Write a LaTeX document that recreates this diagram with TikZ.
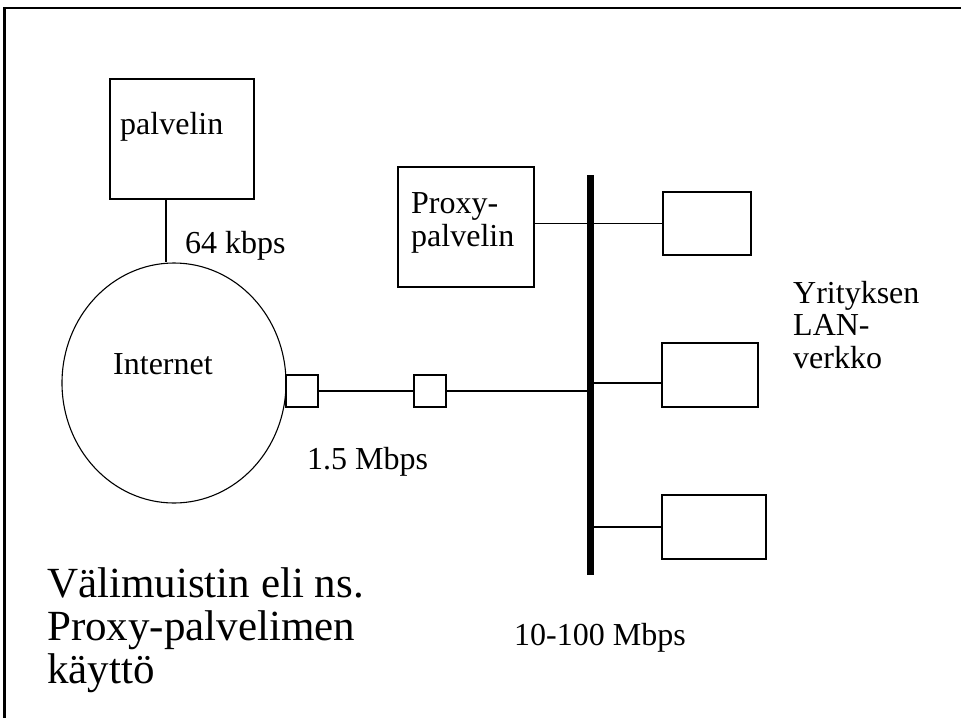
\documentclass[tikz,border=0pt]{standalone}
\usepackage{fontspec}
\setmainfont{Liberation Serif}
\usetikzlibrary{shapes.geometric}
\begin{document}
\begin{tikzpicture}[x=1pt,y=-1pt,
  box/.style={draw,line width=1.1pt,inner sep=0pt,fill=white},
  wire/.style={line width=1.1pt},
  lbl/.style={inner sep=0pt,anchor=base west,font=\fontsize{32}{32.5}\selectfont},
  big/.style={inner sep=0pt,anchor=base west,font=\fontsize{43}{43}\selectfont}]
\useasboundingbox (0,0) rectangle (961,718);
% frame
\coordinate (ftr) at (961,8);
\coordinate (ftl) at (4.5,8);
\coordinate (fbl) at (4.5,718);
\draw[line width=2.7pt] (ftr) -- (ftl) -- (fbl);
% nodes
\node[box,minimum width=144,minimum height=120] (pal) at (182,139) {};
\node[box,ellipse,minimum width=224,minimum height=240] (inet) at (174,383) {};
\node[box,minimum width=32,minimum height=32] (r1) at (302,391) {};
\node[box,minimum width=32,minimum height=32] (r2) at (430,391) {};
\node[fill=black,inner sep=0pt,minimum width=7,minimum height=400] (bus) at (590.5,375) {};
\node[box,minimum width=136,minimum height=120] (proxy) at (466,227) {};
\node[box,minimum width=88,minimum height=63] (lan1) at (707,223.5) {};
\node[box,minimum width=96,minimum height=64] (lan2) at (710,375) {};
\node[box,minimum width=104,minimum height=64] (lan3) at (714,527) {};
% connectors
\draw[wire] ([xshift=-16]pal.south) -- ([xshift=-8]inet.north);
\draw[wire] (r1.east) -- (r2.west);
\draw[wire] (r2.east) -- (r2.east -| bus.west);
\draw[wire] (lan1.west) -- (lan1.west -| proxy.east);
\draw[wire] ([yshift=-8]lan2.west) -- ([yshift=-8]lan2.west -| bus.east);
\draw[wire] (lan3.west) -- (lan3.west -| bus.east);
% texts
\node[lbl] (tpal) at (120,134) {palvelin};
\node[lbl] (t64) at (185,253) {64 kbps};
\node[lbl] (tinet) at (113,374) {Internet};
\node[lbl] (t15) at (307,469) {1.5 Mbps};
\node[lbl] (tpx1) at (411,213) {Proxy-};
\node[lbl] (tpx2) at (411,246) {palvelin};
\node[lbl] (ty1) at (793,303) {Yrityksen};
\node[lbl] (ty2) at (793,335) {LAN-};
\node[lbl] (ty3) at (793,368) {verkko};
\node[lbl] (t10) at (514,645) {10-100 Mbps};
\node[big] (tb1) at (47,597) {Välimuistin eli ns.};
\node[big] (tb2) at (47,640) {Proxy-palvelimen};
\node[big] (tb3) at (47,683) {käyttö};
\end{tikzpicture}
\end{document}
